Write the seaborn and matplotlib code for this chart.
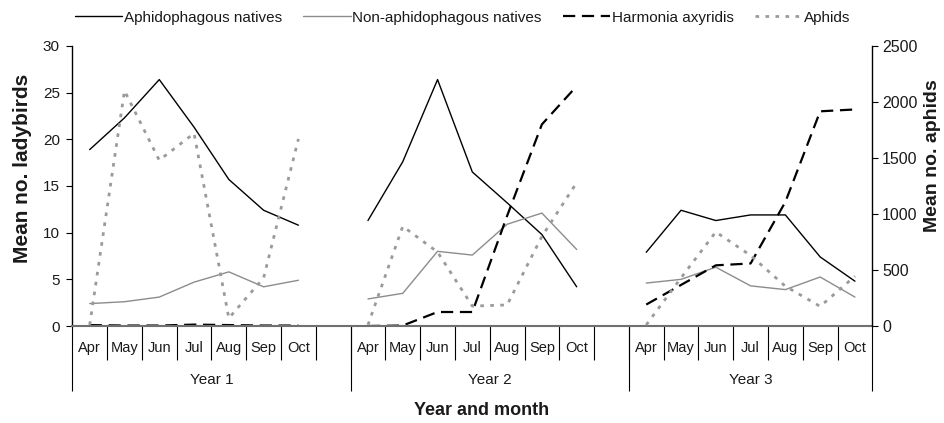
import numpy as np
import pandas as pd
import seaborn as sns
import matplotlib.pyplot as plt

# values
months = ['Apr', 'May', 'Jun', 'Jul', 'Aug', 'Sep', 'Oct']
years = ['Year 1', 'Year 2', 'Year 3']

aphidophagous = [[18.9, 22.3, 26.4, 21.3, 15.7, 12.4, 10.8],
                 [11.3, 17.6, 26.4, 16.5, 13.2, 9.8, 4.2],
                 [7.9, 12.4, 11.3, 11.9, 11.9, 7.4, 4.8]]
non_aphidophagous = [[2.4, 2.6, 3.1, 4.7, 5.8, 4.2, 4.9],
                     [2.9, 3.5, 8.0, 7.6, 10.9, 12.1, 8.2],
                     [4.6, 5.0, 6.3, 4.3, 3.9, 5.25, 3.1]]
harmonia = [[0.1, 0.05, 0.05, 0.15, 0.1, 0.05, 0.05],
            [0.0, 0.05, 1.5, 1.5, 11.8, 21.6, 25.7],
            [2.3, 4.4, 6.5, 6.7, 13.3, 23.0, 23.2]]
aphids = [[10, 2100, 1480, 1720, 70, 430, 1670],
          [10, 890, 660, 178, 188, 800, 1280],
          [10, 430, 840, 630, 355, 175, 445]]

# one empty category between the years
slot = len(months) + 1
n_cat = slot * len(years) - 1

rows = []
for name, vals in [('Aphidophagous natives', aphidophagous),
                   ('Non-aphidophagous natives', non_aphidophagous),
                   ('Harmonia axyridis', harmonia),
                   ('Aphids', aphids)]:
    for yi, yr in enumerate(years):
        for mi, m in enumerate(months):
            rows.append({'series': name, 'year': yr, 'pos': yi * slot + mi,
                         'value': vals[yi][mi]})
df = pd.DataFrame(rows)

sns.set_style('ticks')
plt.rcParams['font.family'] = ['Liberation Sans', 'DejaVu Sans']
plt.rcParams['text.color'] = '#1a1a1a'
plt.rcParams['axes.labelcolor'] = '#1a1a1a'
plt.rcParams['xtick.labelcolor'] = '#1a1a1a'
plt.rcParams['ytick.labelcolor'] = '#1a1a1a'

fig = plt.figure(figsize=(9.44, 4.23), dpi=100)
ax = fig.add_axes([0.0766, 0.2293, 0.8475, 0.662])
ax2 = ax.twinx()

styles = {
    'Aphidophagous natives': dict(color='black', lw=1.0, ls='-'),
    'Non-aphidophagous natives': dict(color='#8c8c8c', lw=1.0, ls='-'),
    'Harmonia axyridis': dict(color='black', lw=1.6, ls=(0, (5.5, 3))),
    'Aphids': dict(color='#9a9a9a', lw=2.0, ls=(0, (1.3, 2.3))),
}

for name in ['Aphidophagous natives', 'Non-aphidophagous natives', 'Harmonia axyridis']:
    st = styles[name]
    sns.lineplot(data=df[df.series == name], x='pos', y='value', units='year',
                 estimator=None, ax=ax, color=st['color'], linewidth=st['lw'],
                 linestyle=st['ls'], label=name)
st = styles['Aphids']
sns.lineplot(data=df[df.series == 'Aphids'], x='pos', y='value', units='year',
             estimator=None, ax=ax2, color=st['color'], linewidth=st['lw'],
             linestyle=st['ls'], label='Aphids')

# legend on top, built from the drawn lines
handles, labels = [], []
for a in (ax, ax2):
    h, l = a.get_legend_handles_labels()
    handles += h
    labels += l
    if a.get_legend() is not None:
        a.get_legend().remove()
seen = {}
for h, l in zip(handles, labels):
    seen.setdefault(l, h)
fig.legend(list(seen.values()), list(seen.keys()), loc='center',
           bbox_to_anchor=(0.49, 0.958), ncol=4, frameon=False, fontsize=11,
           handlelength=3.1, handletextpad=0.1, columnspacing=1.4)

# y axes
ax.set_ylim(0, 30)
ax.set_yticks(range(0, 31, 5))
ax2.set_ylim(0, 2500)
ax2.set_yticks(range(0, 2501, 500))
ax.tick_params(axis='y', length=4, width=0.8, labelsize=11, pad=5, color='black')
ax2.tick_params(axis='y', length=4, width=0.8, labelsize=11.5, pad=3, color='black')

for s in ['top', 'right']:
    ax.spines[s].set_visible(False)
for s in ['top', 'left', 'bottom']:
    ax2.spines[s].set_visible(False)
ax.spines['left'].set_linewidth(1.0)
ax.spines['left'].set_color('black')
ax2.spines['right'].set_linewidth(1.0)
ax2.spines['right'].set_color('black')
ax.spines['bottom'].set_color('#707070')
ax.spines['bottom'].set_linewidth(1.5)

ax.set_ylabel('Mean no. ladybirds', fontsize=15, fontweight='bold')
ax2.set_ylabel('Mean no. aphids', fontsize=14, fontweight='bold')
ax.yaxis.set_label_coords(-0.050, 0.564)
ax2.yaxis.set_label_coords(1.065, 0.61)

# x axis: month labels with dividers, years below
ax.set_xlim(-0.5, n_cat - 0.5)
month_labels = [(months + [''])[i % slot] for i in range(n_cat)]
ax.set_xticks(range(n_cat), month_labels)
ax.set_xticks(np.arange(0.5, n_cat - 1, 1.0), minor=True)
ax.tick_params(axis='x', which='major', length=0, labelsize=10.5, pad=11)
ax.tick_params(axis='x', which='minor', length=24.5, width=0.8, color='black')

sec = ax.secondary_xaxis('bottom')
sec.spines['bottom'].set_visible(False)
bounds = [-0.5] + [yi * slot - 0.5 for yi in range(1, len(years))] + [n_cat - 0.5]
sec.set_xticks(bounds, [''] * len(bounds))
centers = [(bounds[i] + bounds[i + 1]) / 2 for i in range(len(years))]
sec.set_xticks(centers, years, minor=True)
sec.tick_params(axis='x', which='major', length=47, width=0.8, color='black')
sec.tick_params(axis='x', which='minor', length=0, labelsize=11, pad=34)

ax.set_xlabel('Year and month', fontsize=13, fontweight='bold')
ax.xaxis.set_label_coords(0.511, -0.27)

fig.savefig('out.png', dpi=100)
